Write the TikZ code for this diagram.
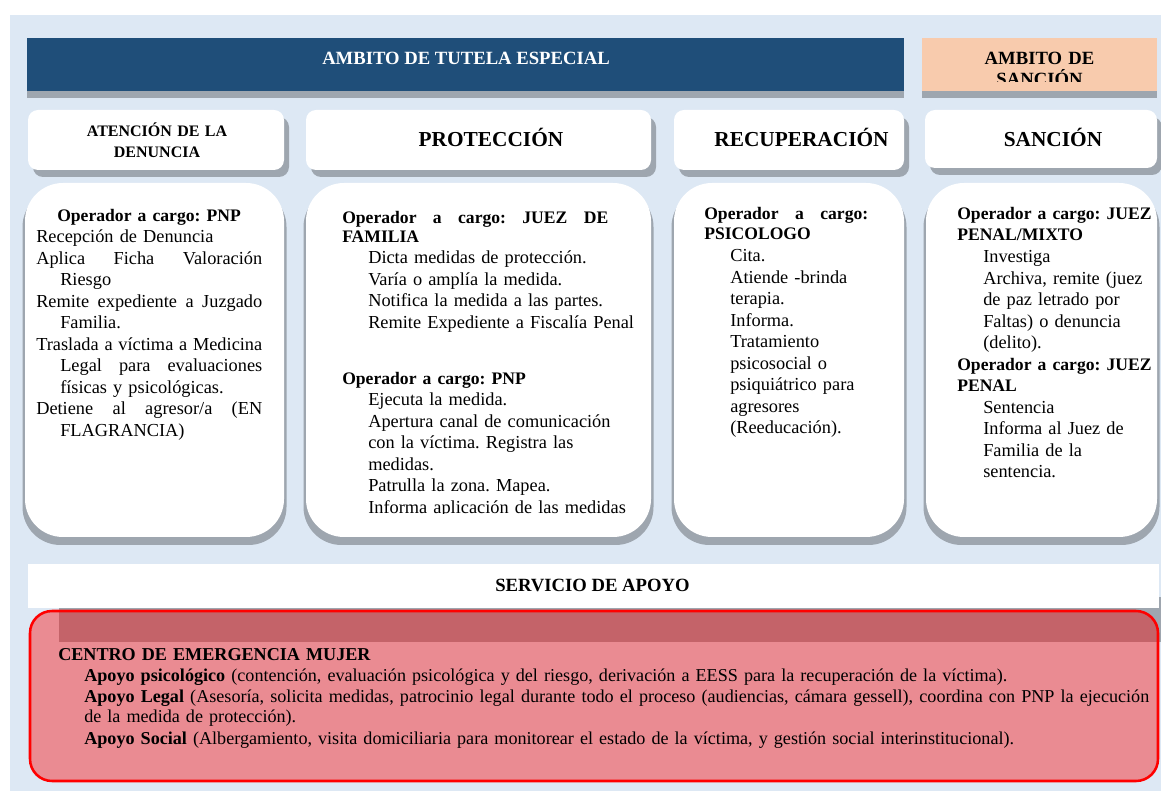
\documentclass[tikz,border=0pt]{standalone}
\usepackage{fontspec}
\setmainfont{Liberation Serif}
\newlength\px
\setlength\px{0.75pt}
\definecolor{navy}{RGB}{31,78,121}
\definecolor{peach}{RGB}{248,203,173}
\definecolor{bgblue}{RGB}{221,232,244}
\definecolor{shgray}{RGB}{158,166,175}
\newcommand\hd[1]{{\fontsize{13.2}{16.1}\selectfont\bfseries #1}}
\newcommand\ind{\hspace*{26\px}}
\newcommand\indA{\hspace*{24\px}}
\newcommand\bodyfont{\fontsize{13.75}{16.1}\selectfont}
\newcommand\js[2]{\makebox[#1][s]{\spaceskip=.25em plus 1fil\relax #2}}
\begin{document}
\frenchspacing
\begin{tikzpicture}[x=0.75pt,y=-0.75pt,
  plain/.style={rectangle, inner sep=0pt, outer sep=0pt},
  shade/.style={plain, fill=shgray},
  tabbox/.style={plain, fill=white, rounded corners=7.5pt},
  tabshade/.style={shade, rounded corners=7.5pt},
  bigbox/.style={plain, fill=white, rounded corners=28.5pt},
  bigshade/.style={shade, rounded corners=28.5pt},
  txt/.style={anchor=base west, inner sep=0pt, align=left, font=\bodyfont},
  tabtxt/.style={anchor=base, inner sep=0pt, font=\fontsize{16}{19}\selectfont\bfseries}
]
\useasboundingbox (0,0) rectangle (1161,791);
\fill[white] (0,0) rectangle (1161,791);
\fill[bgblue] (10,15) rectangle (1161,791);

% top headers
\node[shade, minimum width=877*\px, minimum height=53*\px] (tutelas) at (465.5,71.5) {};
\node[plain, fill=navy, minimum width=877*\px, minimum height=53*\px] (tutela) at (465.5,64.5) {};
\node[anchor=base, inner sep=0pt, text=white, font=\fontsize{14}{16}\selectfont\bfseries] (tutelat) at (466,65) {AMBITO DE TUTELA ESPECIAL};
\node[shade, minimum width=235*\px, minimum height=53*\px] (sancs) at (1039.5,71.5) {};
\node[plain, fill=peach, minimum width=235*\px, minimum height=53*\px] (sanc) at (1039.5,64.5) {};
\begin{scope}
\clip (922,38) rectangle (1157,82);
\node[anchor=base, inner sep=0pt, align=center, text width=220*\px, font=\fontsize{14}{15.75}\selectfont\bfseries] (sanct) at (1039.5,65) {AMBITO DE\\SANCIÓN};
\end{scope}

% tabs
\node[tabshade, minimum width=256*\px, minimum height=60*\px] (t1s) at (161,147) {};
\node[tabbox, minimum width=256*\px, minimum height=60*\px] (t1) at (156,140) {};
\node[anchor=base, inner sep=0pt, align=center, text width=200*\px, font=\fontsize{12}{15.75}\selectfont\bfseries] (t1t) at (157,137) {ATENCIÓN DE LA\\DENUNCIA};
\node[tabshade, minimum width=345*\px, minimum height=60*\px] (t2s) at (483.5,147) {};
\node[tabbox, minimum width=345*\px, minimum height=60*\px] (t2) at (478.5,140) {};
\node[tabtxt] (t2t) at (491,147) {PROTECCIÓN};
\node[tabshade, minimum width=230*\px, minimum height=60*\px] (t3s) at (794,147) {};
\node[tabbox, minimum width=230*\px, minimum height=60*\px] (t3) at (789,140) {};
\node[tabtxt] (t3t) at (801.5,147) {RECUPERACIÓN};
\node[tabshade, minimum width=232*\px, minimum height=58*\px] (t4s) at (1046,146) {};
\node[tabbox, minimum width=232*\px, minimum height=58*\px] (t4) at (1041,139) {};
\node[tabtxt] (t4t) at (1053,147) {SANCIÓN};

% big boxes
\node[bigshade, minimum width=264*\px, minimum height=356*\px] (b1s) at (154.5,367) {};
\node[bigbox, minimum width=259*\px, minimum height=354*\px] (b1) at (154.5,360) {};
\node[bigshade, minimum width=350*\px, minimum height=356*\px] (b2s) at (478.5,367) {};
\node[bigbox, minimum width=345*\px, minimum height=354*\px] (b2) at (478.5,360) {};
\node[bigshade, minimum width=235*\px, minimum height=356*\px] (b3s) at (789,367) {};
\node[bigbox, minimum width=230*\px, minimum height=354*\px] (b3) at (789,360) {};
\node[bigshade, minimum width=236*\px, minimum height=356*\px] (b4s) at (1041.5,367) {};
\node[bigbox, minimum width=231*\px, minimum height=354*\px] (b4) at (1041.5,360) {};

\node[txt, text width=250*\px] (b1t) at (36,222) {%
\hspace*{21\px}\hd{Operador a cargo: PNP}\\[-0.5\px]
Recepción de Denuncia\\
\js{226\px}{Aplica Ficha Valoración}\\
\indA Riesgo\\
\js{226\px}{Remite expediente a Juzgado}\\
\indA Familia.\\
\js{226\px}{Traslada a víctima a Medicina}\\
\indA\js{202\px}{Legal para evaluaciones}\\
\indA físicas y psicológicas.\\
\js{226\px}{Detiene al agresor/a (EN}\\
\indA FLAGRANCIA)};

\node[txt, text width=300*\px] (b2t) at (342,224) {%
\js{266\px}{\hd{Operador a cargo: JUEZ DE}}\\[-2.5\px]
\hd{FAMILIA}\\[-0.5\px]
\ind Dicta medidas de protección.\\
\ind Varía o amplía la medida.\\
\ind Notifica la medida a las partes.\\
\ind Remite Expediente a Fiscalía Penal};
\begin{scope}
\clip (306,370) rectangle (651,514);
\node[txt, text width=300*\px] (b2u) at (342,385) {%
\hd{Operador a cargo: PNP}\\[-0.5\px]
\ind Ejecuta la medida.\\
\ind Apertura canal de comunicación\\
\ind con la víctima. Registra las\\
\ind medidas.\\
\ind Patrulla la zona. Mapea.\\
\ind Informa aplicación de las medidas};
\end{scope}

\node[txt, text width=190*\px] (b3t) at (704,220) {%
\js{164\px}{\hd{Operador a cargo:}}\\[-1.5\px]
\hd{PSICOLOGO}\\[0.5\px]
\ind Cita.\\
\ind Atiende -brinda\\
\ind terapia.\\
\ind Informa.\\
\ind Tratamiento\\
\ind psicosocial o\\
\ind psiquiátrico para\\
\ind agresores\\
\ind (Reeducación).};

\node[txt, text width=200*\px] (b4t) at (957,220) {%
\hd{Operador a cargo: JUEZ}\\[-0.5\px]
\hd{PENAL/MIXTO}\\[0.5\px]
\ind Investiga\\
\ind Archiva, remite (juez\\
\ind de paz letrado por\\
\ind Faltas) o denuncia\\
\ind (delito).\\
\hd{Operador a cargo: JUEZ}\\[-0.5\px]
\hd{PENAL}\\[0.5\px]
\ind Sentencia\\
\ind Informa al Juez de\\
\ind Familia de la\\
\ind sentencia.};

% support service
\node[shade, minimum width=1102*\px, minimum height=45*\px] (apoyos) at (610,619.5) {};
\node[plain, fill=white, minimum width=1131*\px, minimum height=44*\px] (apoyo) at (593.5,586) {};
\node[anchor=base, inner sep=0pt, font=\fontsize{14}{16}\selectfont\bfseries] (apoyot) at (592.5,591) {SERVICIO DE APOYO};

\node[plain, draw=red, line width=1.9pt, fill=red, fill opacity=0.4, rounded corners=16.5pt, minimum width=1128*\px, minimum height=170*\px] (cem) at (594,696) {};
\node[txt, text width=1110*\px, font=\fontsize{13.6}{15.75}\selectfont] (cemt) at (58,660) {%
\textbf{CENTRO DE EMERGENCIA MUJER}\\
\ind\textbf{Apoyo psicológico} (contención, evaluación psicológica y del riesgo, derivación a EESS para la recuperación de la víctima).\\
\ind\js{1065\px}{\textbf{Apoyo Legal} (Asesoría, solicita medidas, patrocinio legal durante todo el proceso (audiencias, cámara gessell), coordina con PNP la ejecución}\\
\ind de la medida de protección).\\
\ind\textbf{Apoyo Social} (Albergamiento, visita domiciliaria para monitorear el estado de la víctima, y gestión social interinstitucional).};
\end{tikzpicture}
\end{document}
